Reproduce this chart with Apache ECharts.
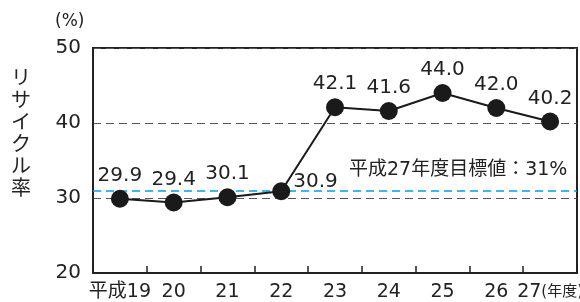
<!DOCTYPE html>
<html>
<head>
<meta charset="utf-8">
<script src="https://cdn.jsdelivr.net/npm/echarts@6.0.0/dist/echarts.min.js"></script>
<style>
  html, body { margin: 0; padding: 0; background: #fff; }
  #chart { width: 580px; height: 302px; }
</style>
</head>
<body>
<div id="chart"></div>
<script>
// 年度 (平成) とリサイクル率
const years = ['平成19', '20', '21', '22', '23', '24', '25', '26', '27'];
const recycleRate = [29.9, 29.4, 30.1, 30.9, 42.1, 41.6, 44.0, 42.0, 40.2];
const target = 31;
const targetLabel = '平成27年度目標値：31%';
const yTicks = { min: 20, max: 50, interval: 10 };

const FONT = '"DejaVu Sans", "Noto Sans CJK JP", sans-serif';
const INK = '#222';

const chart = echarts.init(document.getElementById('chart'));

// 22年度のラベルだけ点の右上に置く
const seriesData = recycleRate.map((v, i) => i === 3
  ? { value: v, label: { position: 'right', distance: 3, offset: [0, -9] } }
  : v);

chart.setOption({
  backgroundColor: '#fff',
  animation: false,
  textStyle: { fontFamily: FONT, color: INK },
  grid: {
    left: 93, right: 3, top: 48, bottom: 29,
    outerBoundsMode: 'none', containLabel: false,
    show: true, borderColor: INK, borderWidth: 2
  },
  xAxis: {
    type: 'category',
    data: years,
    boundaryGap: true,
    axisLine: { show: true, lineStyle: { color: INK, width: 2 } },
    axisTick: { show: true, inside: true, length: 7, interval: 0, alignWithLabel: false, lineStyle: { color: INK, width: 1.5 } },
    axisLabel: {
      interval: 0, hideOverlap: false,
      color: INK, fontSize: 19, fontFamily: FONT, margin: 10,
      formatter: (v, i) => i === years.length - 1 ? v + '{s|(年度)}' : v,
      rich: { s: { fontSize: 15, fontFamily: FONT, color: INK } }
    }
  },
  yAxis: {
    type: 'value',
    min: yTicks.min, max: yTicks.max, interval: yTicks.interval,
    axisLine: { show: true, lineStyle: { color: INK, width: 2 } },
    axisTick: { show: false },
    axisLabel: { color: INK, fontSize: 20, fontFamily: FONT, margin: 12 },
    splitLine: { show: true, lineStyle: { color: '#555', width: 1, type: [8, 5] } }
  },
  series: [{
    type: 'line',
    data: seriesData,
    symbol: 'circle',
    symbolSize: 18,
    itemStyle: { color: '#1a1a1a' },
    lineStyle: { color: '#1a1a1a', width: 2 },
    label: {
      show: true, position: 'top', distance: 4,
      color: INK, fontSize: 20, fontFamily: FONT,
      formatter: p => p.value.toFixed(1)
    },
    markLine: {
      silent: true,
      symbol: 'none',
      label: { show: false },
      lineStyle: { color: '#00a0e9', width: 1.5, type: [8, 5] },
      data: [{ yAxis: target }]
    },
    z: 5
  }],
  graphic: [
    { type: 'text', left: 55, top: 13, style: { text: '(%)', fontSize: 17, fontFamily: FONT, fill: INK } },
    { type: 'text', left: 11, top: 66, style: { text: 'リ\nサ\nイ\nク\nル\n率', fontSize: 20, lineHeight: 22, fontFamily: '"Noto Sans CJK JP", sans-serif', fill: INK } },
    { type: 'text', left: 349, top: 161, style: { text: targetLabel, fontSize: 19, fontFamily: FONT, fill: INK } }
  ]
});
</script>
</body>
</html>
